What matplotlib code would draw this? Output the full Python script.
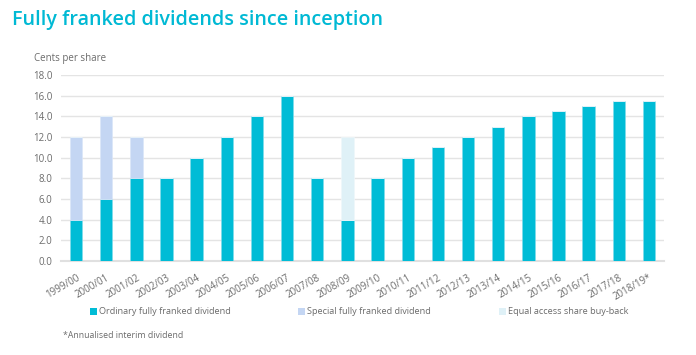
import matplotlib
matplotlib.use("Agg")
import matplotlib.pyplot as plt
from matplotlib.patches import Patch
import numpy as np

years = ["1999/00", "2000/01", "2001/02", "2002/03", "2003/04", "2004/05", "2005/06",
         "2006/07", "2007/08", "2008/09", "2009/10", "2010/11", "2011/12", "2012/13",
         "2013/14", "2014/15", "2015/16", "2016/17", "2017/18", "2018/19*"]
ordinary = [4, 6, 8, 8, 10, 12, 14, 16, 8, 4, 8, 10, 11, 12, 13, 14, 14.5, 15, 15.5, 15.5]
special = [8, 8, 4, 0, 0, 0, 0, 0, 0, 0, 0, 0, 0, 0, 0, 0, 0, 0, 0, 0]
buyback = [0, 0, 0, 0, 0, 0, 0, 0, 0, 8, 0, 0, 0, 0, 0, 0, 0, 0, 0, 0]
yticks = [0, 2, 4, 6, 8, 10, 12, 14, 16, 18]
series_names = ["Ordinary fully franked dividend", "Special fully franked dividend",
                "Equal access share buy-back"]

C_ORD = "#00BCD6"
C_SPE = "#C4D6F3"
C_BUY = "#DFF1F7"
GREY = "#6b6b6b"
FONT = ["Open Sans", "DejaVu Sans"]
plt.rcParams["font.family"] = FONT

fig = plt.figure(figsize=(6.96, 3.55), dpi=100)
ax = fig.add_axes([61/696, 1-261/355, (664-61)/696, (261-75)/355])

x = np.arange(len(years))
w = 0.41
ord_a = np.array(ordinary, dtype=float)
spe_a = np.array(special, dtype=float)
buy_a = np.array(buyback, dtype=float)
ax.bar(x, ord_a, w, color=C_ORD, edgecolor="#7fdcea", linewidth=0.5, zorder=3)
ax.bar(x, spe_a, w, bottom=ord_a, color=C_SPE, edgecolor="#dbe6f8", linewidth=0.5, zorder=3)
ax.bar(x, buy_a, w, bottom=ord_a + spe_a, color=C_BUY, edgecolor="#eef8fb", linewidth=0.5, zorder=3)

ax.set_xlim(-0.5, len(years) - 0.5)
ax.set_ylim(0, 18)
ax.set_yticks(yticks)
ax.set_yticklabels([f"{v:.1f}" for v in yticks], fontsize=7, color=GREY)
ax.yaxis.grid(True, color="#e4e4e4", linewidth=1.0, zorder=0)
ax.set_axisbelow(True)
for s in ["top", "right", "left"]:
    ax.spines[s].set_visible(False)
ax.spines["bottom"].set_color("#e0e0e0")
ax.spines["bottom"].set_linewidth(1.5)
ax.tick_params(axis="both", length=0, pad=6)
ax.set_xticks(x)
ax.set_xticklabels(years, rotation=30, ha="right", va="top", rotation_mode="anchor",
                   fontsize=7, color=GREY)
ax.tick_params(axis="x", pad=8)

fig.text(12/696, 1-20/355, "Fully franked dividends since inception", fontsize=14.2,
         color="#00B9D4", va="center", ha="left", fontweight="semibold")
fig.text(34/696, 1-58/355, "Cents per share", fontsize=7, color=GREY, va="center", ha="left")

handles = [Patch(facecolor=c, edgecolor="none") for c in (C_ORD, C_SPE, C_BUY)]
for h, name, px in zip(handles, series_names, (94, 302, 503)):
    fig.legend([h], [name], loc="center left", bbox_to_anchor=(px/696 - 0.006, 1-312/355),
               frameon=False, fontsize=6.6, handlelength=0.75, handleheight=0.75,
               handletextpad=0.3, labelcolor=GREY, borderpad=0, borderaxespad=0)

fig.text(63/696, 1-336/355, "*Annualised interim dividend", fontsize=6.3, color=GREY,
         va="center", ha="left")

fig.savefig("out.png", dpi=100, facecolor="white")
